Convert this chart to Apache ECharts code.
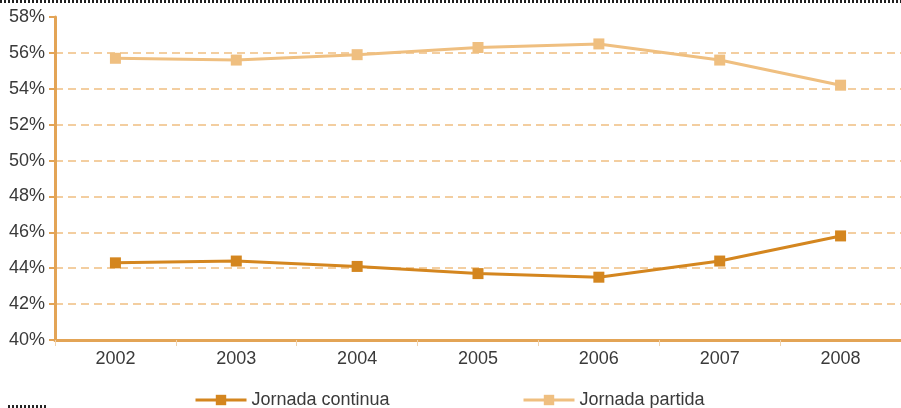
<!DOCTYPE html>
<html><head><meta charset="utf-8">
<script src="https://cdn.jsdelivr.net/npm/echarts@6/dist/echarts.min.js"></script>
<style>html,body{margin:0;padding:0;background:#fff}#c{width:901px;height:408px}</style>
</head><body><div id="c"></div>
<script>
var years = ['2002','2003','2004','2005','2006','2007','2008'];
var continua = [44.3, 44.4, 44.1, 43.7, 43.5, 44.4, 45.8];
var partida = [55.7, 55.6, 55.9, 56.3, 56.5, 55.6, 54.2];
var nameContinua = 'Jornada continua';
var namePartida = 'Jornada partida';

var darkC = '#d4861f', lightC = '#efbf80', axisC = '#e3a456', gridC = '#f3cea0';
var font = 'Liberation Sans, Helvetica, Arial, sans-serif';
var txt = {fontFamily: font, fontSize: 18, color: '#3a3a3a'};
var chart = echarts.init(document.getElementById('c'));
var gc = []; for (var i = 0; i < 9; i++) gc.push(gridC); gc.push('rgba(0,0,0,0)');
chart.setOption({
  animation: false,
  grid: {left: 55, right: -3, top: 17, bottom: 68},
  legend: [
    {data: [nameContinua], left: 189, top: 386, itemWidth: 51, itemHeight: 13,
     lineStyle: {width: 3}, textStyle: txt, itemGap: 10},
    {data: [namePartida], left: 517, top: 386, itemWidth: 51, itemHeight: 13,
     lineStyle: {width: 3}, textStyle: txt}
  ],
  xAxis: {
    type: 'category', data: years, boundaryGap: true,
    axisLine: {lineStyle: {color: axisC, width: 3}},
    axisTick: {show: true, length: 6, lineStyle: {color: '#f0d3ae', width: 1}},
    axisLabel: Object.assign({margin: 10}, txt)
  },
  yAxis: {
    type: 'value', min: 40, max: 58, interval: 2,
    axisLine: {show: true, lineStyle: {color: axisC, width: 3}},
    axisTick: {show: true, length: 6, lineStyle: {color: axisC, width: 2}},
    axisLabel: Object.assign({margin: 10, formatter: '{value}%'}, txt),
    splitLine: {show: true, lineStyle: {color: gc, type: [8, 5], width: 2}}
  },
  series: [
    {name: nameContinua, type: 'line', data: continua, symbol: 'rect', symbolSize: 11,
     lineStyle: {color: darkC, width: 3}, itemStyle: {color: darkC}},
    {name: namePartida, type: 'line', data: partida, symbol: 'rect', symbolSize: 11,
     lineStyle: {color: lightC, width: 3}, itemStyle: {color: lightC}}
  ],
  graphic: [
    {type: 'line', shape: {x1: 0, y1: 1.5, x2: 901, y2: 1.5}, style: {stroke: '#222', lineWidth: 3, lineDash: [2, 2]}},
    {type: 'line', shape: {x1: 8, y1: 406.5, x2: 46, y2: 406.5}, style: {stroke: '#222', lineWidth: 3, lineDash: [2, 2]}}
  ]
});
</script></body></html>
